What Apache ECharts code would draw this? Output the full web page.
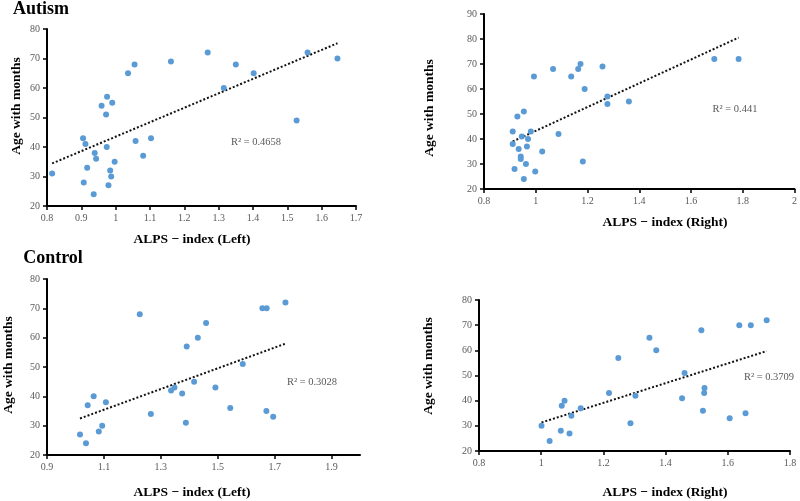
<!DOCTYPE html>
<html><head><meta charset="utf-8">
<script src="https://cdn.jsdelivr.net/npm/echarts@6/dist/echarts.min.js"></script>
<style>html,body{margin:0;padding:0;background:#fff}#c{width:800px;height:501px}</style>
</head><body><div id="c"></div>
<script>
// ---- data ----
const autismLeftX = [0.815,0.905,0.912,0.939,0.943,0.917,0.907,0.936,0.959,0.975,0.990,0.972,0.974,0.997,0.984,0.987,0.979,1.036,1.055,1.161,1.058,1.103,1.080,1.268,1.350,1.402,1.315,1.559,1.646,1.527];
const autismLeftY = [31,43,41,38,36,33,28,24,54,57,55,51,40,35,32,30,27,65,68,69,42,43,37,72,68,65,60,72,70,49];
const autismRightX = [0.911,0.911,0.929,0.954,0.946,0.934,0.942,0.942,0.918,0.962,0.954,0.970,0.966,0.981,0.993,0.998,1.025,1.067,1.088,1.137,1.164,1.173,1.189,1.182,1.258,1.277,1.277,1.360,1.690,1.784];
const autismRightY = [43,38,49,51,41,36,33,32,28,30,24,40,37,43,65,27,35,68,42,65,68,70,60,31,69,57,54,55,72,72];
const controlLeftX = [1.016,1.037,1.043,1.064,1.107,1.082,1.094,1.226,1.265,1.336,1.348,1.375,1.391,1.388,1.417,1.430,1.459,1.492,1.588,1.544,1.657,1.672,1.738,1.671,1.695];
const controlLeftY = [27,24,37,40,38,28,30,68,34,42,43,41,57,31,45,60,65,43,51,36,70,70,72,35,33];
const controlRightX = [1.001,1.027,1.066,1.075,1.063,1.091,1.097,1.127,1.218,1.248,1.303,1.287,1.348,1.370,1.515,1.461,1.453,1.525,1.524,1.520,1.606,1.657,1.637,1.674,1.725];
const controlRightY = [30,24,38,40,28,27,34,37,43,57,42,31,65,60,68,51,41,45,43,36,33,35,70,70,72];
const r2Labels = ['R\u00b2 = 0.4658','R\u00b2 = 0.441','R\u00b2 = 0.3028','R\u00b2 = 0.3709'];
const groupTitles = ['Autism','Control'];
const xAxisNames = ['ALPS \u2212 index (Left)','ALPS \u2212 index (Right)','ALPS \u2212 index (Left)','ALPS \u2212 index (Right)'];
const yAxisName = 'Age with months';
const controlLeftTicks = [0.9,1.1,1.3,1.5,1.7,1.9];

// ---- helpers ----
function fitLine(xs, ys){
  const n = xs.length;
  const mx = xs.reduce((a,b)=>a+b,0)/n, my = ys.reduce((a,b)=>a+b,0)/n;
  let sxy=0, sxx=0;
  for(let i=0;i<n;i++){ sxy+=(xs[i]-mx)*(ys[i]-my); sxx+=(xs[i]-mx)*(xs[i]-mx); }
  const b = sxy/sxx, a = my - b*mx;
  const x0 = Math.min(...xs), x1 = Math.max(...xs);
  return [[x0, a+b*x0],[x1, a+b*x1]];
}
const zip = (xs, ys) => xs.map((x,i)=>[x, ys[i]]);

const panels = [
  {xs:autismLeftX, ys:autismLeftY, grid:{left:47,top:29,width:309,height:177}, x:{min:0.8,max:1.7,interval:0.1}, y:{min:20,max:80,interval:10}},
  {xs:autismRightX, ys:autismRightY, grid:{left:484,top:14,width:313,height:175}, x:{min:0.8,max:2.0,interval:0.2}, y:{min:20,max:90,interval:10}},
  {xs:controlLeftX, ys:controlLeftY, grid:{left:47,top:279,width:313,height:176}, x:{min:0.9,max:2.0,custom:controlLeftTicks}, y:{min:20,max:80,interval:10}},
  {xs:controlRightX, ys:controlRightY, grid:{left:479,top:300,width:311,height:151}, x:{min:0.8,max:1.8,interval:0.2}, y:{min:20,max:80,interval:10}}
];

const serif = '"Liberation Serif","Times New Roman",serif';
const axisLine = {show:true, onZero:false, lineStyle:{color:'#000', width:2}};
const labelStyle = {color:'#595959', fontFamily:serif, fontSize:10};

const grids=[], xAxes=[], yAxes=[], series=[];
panels.forEach((p,i)=>{
  grids.push(Object.assign({containLabel:false}, p.grid));
  const xa = {type:'value', gridIndex:i, min:p.x.min, max:p.x.max, splitLine:{show:false},
    axisLine:axisLine, axisTick:{show:true, length:4, lineStyle:{color:'#000', width:1.5}},
    axisLabel:Object.assign({margin:7}, labelStyle)};
  if(p.x.custom){
    xa.axisLabel.customValues = p.x.custom;
    xa.axisTick.customValues = p.x.custom;
  } else { xa.interval = p.x.interval; }
  xAxes.push(xa);
  yAxes.push({type:'value', gridIndex:i, min:p.y.min, max:p.y.max, interval:p.y.interval, splitLine:{show:false},
    axisLine:axisLine, axisTick:{show:true, length:4, lineStyle:{color:'#000', width:1.5}},
    axisLabel:Object.assign({margin:7}, labelStyle)});
  series.push({type:'scatter', xAxisIndex:i, yAxisIndex:i, data:zip(p.xs,p.ys), symbolSize:6,
    itemStyle:{color:'#5B9BD5', opacity:1}, z:3});
  series.push({type:'line', xAxisIndex:i, yAxisIndex:i, data:fitLine(p.xs,p.ys), symbol:'none',
    lineStyle:{color:'#111', width:2, type:[2,2]}, z:2, silent:true});
});

const txt = (x,y,s,opt) => ({type:'text', x:x, y:y, style:Object.assign({text:s, fontFamily:serif, fill:'#000', align:'center', verticalAlign:'middle'}, opt||{})});
const graphic = [
  txt(41,9,groupTitles[0],{fontSize:18,fontWeight:'bold'}),
  txt(53,258,groupTitles[1],{fontSize:18,fontWeight:'bold'}),
  txt(192,240,xAxisNames[0],{fontSize:13.5,fontWeight:'bold'}),
  txt(665,223,xAxisNames[1],{fontSize:13.5,fontWeight:'bold'}),
  txt(192,493,xAxisNames[2],{fontSize:13.5,fontWeight:'bold'}),
  txt(665,493,xAxisNames[3],{fontSize:13.5,fontWeight:'bold'}),
  Object.assign(txt(0,0,yAxisName,{fontSize:13.5,fontWeight:'bold'}),{x:17,y:106,rotation:Math.PI/2}),
  Object.assign(txt(0,0,yAxisName,{fontSize:13.5,fontWeight:'bold'}),{x:430,y:108,rotation:Math.PI/2}),
  Object.assign(txt(0,0,yAxisName,{fontSize:13.5,fontWeight:'bold'}),{x:9,y:365,rotation:Math.PI/2}),
  Object.assign(txt(0,0,yAxisName,{fontSize:13.5,fontWeight:'bold'}),{x:429,y:366,rotation:Math.PI/2}),
  txt(256,142,r2Labels[0],{fontSize:10.5,fill:'#595959'}),
  txt(735,109,r2Labels[1],{fontSize:10.5,fill:'#595959'}),
  txt(312,382,r2Labels[2],{fontSize:10.5,fill:'#595959'}),
  txt(769,377,r2Labels[3],{fontSize:10.5,fill:'#595959'})
];

const chart = echarts.init(document.getElementById('c'), null, {renderer:'canvas'});
chart.setOption({animation:false, backgroundColor:'#fff', grid:grids, xAxis:xAxes, yAxis:yAxes, series:series, graphic:graphic});
</script></body></html>
